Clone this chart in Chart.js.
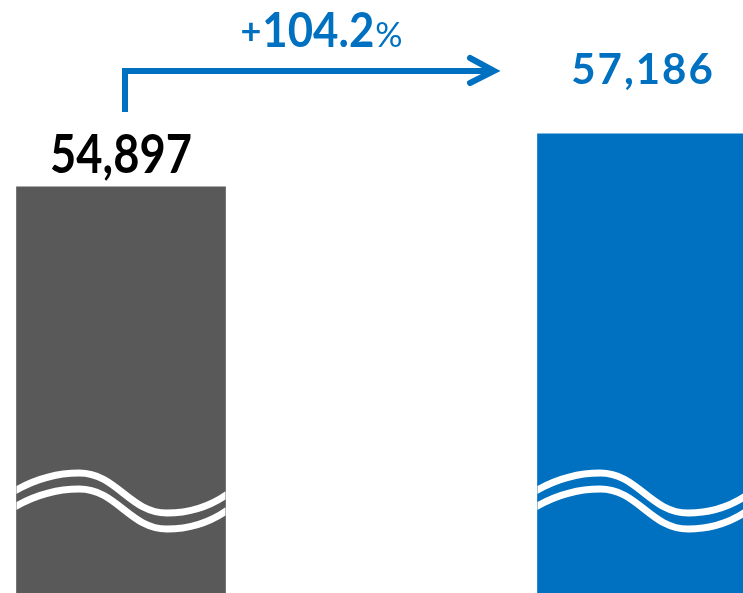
<!DOCTYPE html>
<html>
<head>
<meta charset="utf-8">
<script src="https://cdn.jsdelivr.net/npm/chart.js@4.4.1/dist/chart.umd.min.js"></script>
<style>
  html, body { margin: 0; padding: 0; background: #fff; overflow: hidden; }
  #wrap { width: 743px; height: 593px; position: relative; }
</style>
</head>
<body>
<div id="wrap"><canvas id="growthChart"></canvas></div>
<script>
// values
const categories = ["Before", "After"];
const values = [54897, 57186];
const valueLabels = ["54,897", "57,186"];
const barColors = ["#595959", "#0070C0"];
const labelColors = ["#000000", "#0070C0"];
const changeLabel = "104.2";

const BLUE = "#0070C0";

// white double wave across each bar (axis break)
function drawWave(ctx, left, w, base, off) {
  const y = v => base - v + off;
  ctx.beginPath();
  ctx.moveTo(left - 2, y(102));
  ctx.quadraticCurveTo(left + w * 0.14, y(120), left + w * 0.30, y(120));
  ctx.bezierCurveTo(left + w * 0.48, y(120), left + w * 0.54, y(80), left + w * 0.72, y(80));
  ctx.quadraticCurveTo(left + w * 0.88, y(80), left + w + 2, y(99));
  ctx.stroke();
}

const overlayPlugin = {
  id: "overlay",
  afterDatasetsDraw(chart) {
    const ctx = chart.ctx;
    const bars = chart.getDatasetMeta(0).data;
    const bottom = chart.chartArea.bottom;
    ctx.save();

    // axis break waves, clipped to each bar
    ctx.strokeStyle = "#ffffff";
    ctx.lineWidth = 7;
    bars.forEach(bar => {
      const w = bar.width;
      const left = bar.x - w / 2;
      ctx.save();
      ctx.beginPath();
      ctx.rect(left, bar.y, w, bottom - bar.y);
      ctx.clip();
      drawWave(ctx, left, w, bottom, 0);
      drawWave(ctx, left, w, bottom, 16);
      ctx.restore();
    });

    // value labels
    ctx.textAlign = "center";
    ctx.textBaseline = "alphabetic";
    ctx.fillStyle = labelColors[0];
    ctx.font = "bold 53px Lato";
    ctx.letterSpacing = "0px";
    ctx.fillText(valueLabels[0], bars[0].x, bars[0].y - 14, 142);

    ctx.fillStyle = labelColors[1];
    ctx.font = "bold 42px Lato";
    ctx.letterSpacing = "2px";
    ctx.fillText(valueLabels[1], bars[1].x + 1, bars[1].y - 50);
    ctx.letterSpacing = "0px";

    // arrow
    const x0 = bars[0].x + 4;
    const yTop = 71;
    const x1 = bars[1].x - 148;
    ctx.strokeStyle = BLUE;
    ctx.lineWidth = 6;
    ctx.lineCap = "butt";
    ctx.lineJoin = "miter";
    ctx.beginPath();
    ctx.moveTo(x0, bars[0].y - 75);
    ctx.lineTo(x0, yTop);
    ctx.lineTo(x1 - 2, yTop);
    ctx.stroke();
    ctx.lineCap = "round";
    ctx.beginPath();
    ctx.moveTo(x1 - 24, yTop - 13);
    ctx.lineTo(x1, yTop);
    ctx.lineTo(x1 - 24, yTop + 12);
    ctx.stroke();

    // percentage label
    ctx.fillStyle = BLUE;
    ctx.textAlign = "left";
    const cx = (x0 + x1) / 2 + 12;
    const base = 47;
    ctx.font = "bold 36px Lato";
    const wPlus = ctx.measureText("+").width;
    ctx.font = "34px Lato";
    const wPct = ctx.measureText("%").width;
    ctx.font = "bold 47px Lato";
    const wNum = Math.min(ctx.measureText(changeLabel).width, 112);
    const total = wPlus + wNum + wPct + 2;
    let x = cx - total / 2;
    ctx.font = "bold 36px Lato";
    ctx.fillText("+", x, base - 3);
    x += wPlus + 1;
    ctx.font = "bold 47px Lato";
    ctx.fillText(changeLabel, x, base, 112);
    x += wNum + 1;
    ctx.font = "34px Lato";
    ctx.fillText("%", x, base);

    ctx.restore();
  }
};

new Chart(document.getElementById("growthChart"), {
  type: "bar",
  data: {
    labels: categories,
    datasets: [{
      data: values,
      backgroundColor: barColors,
      borderWidth: 0,
      barThickness: 209,
      clip: false
    }]
  },
  options: {
    responsive: true,
    maintainAspectRatio: false,
    animation: false,
    layout: { padding: { left: 121, right: 101, top: 0, bottom: 0 } },
    scales: {
      x: { display: false, offset: false },
      y: { display: false, min: 37360, max: 62970 }
    },
    plugins: {
      legend: { display: false },
      tooltip: { enabled: false }
    }
  },
  plugins: [overlayPlugin]
});
</script>
</body>
</html>
